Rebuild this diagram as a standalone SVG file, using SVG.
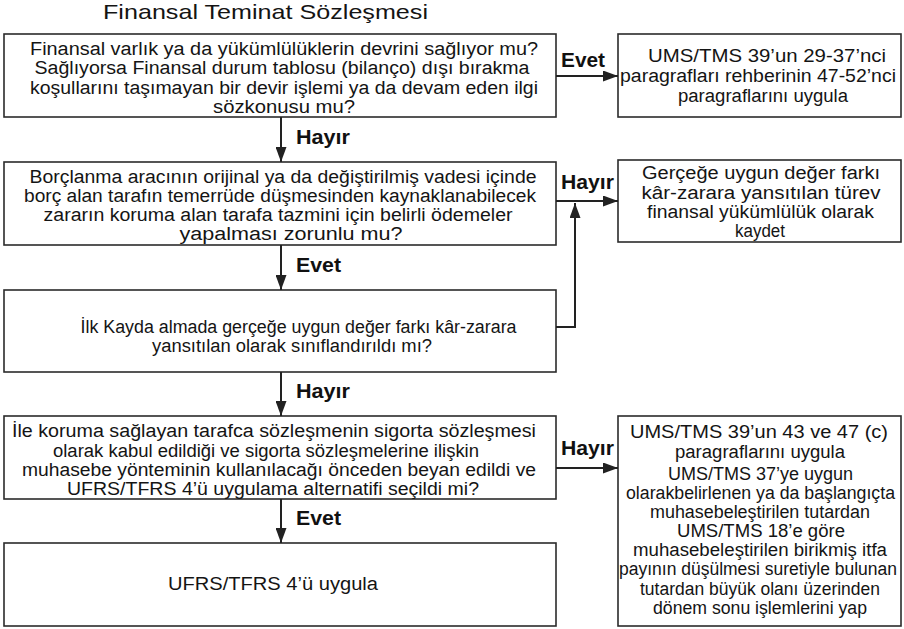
<svg xmlns="http://www.w3.org/2000/svg" width="904" height="629" viewBox="0 0 904 629">
<defs>
<style>
.box{fill:#fff;stroke:#2b2b2b;stroke-width:1.6}
.t{font-family:"Liberation Sans",Arial,sans-serif;font-size:18px;fill:#141414;text-anchor:middle}
.lbl{font-family:"Liberation Sans",Arial,sans-serif;font-size:20px;font-weight:bold;fill:#111}
.title{font-family:"Liberation Sans",Arial,sans-serif;font-size:21px;fill:#141414}
.c{fill:none;stroke:#222;stroke-width:2}
</style>
<marker id="ah" markerUnits="userSpaceOnUse" markerWidth="16" markerHeight="11" refX="15" refY="5.5" orient="auto"><path d="M0,0 L15,5.5 L0,11 Z" fill="#222"/></marker>
</defs>
<rect width="904" height="629" fill="#fff"/>
<g id="title"><text class="title" x="103" y="19" textLength="325" lengthAdjust="spacingAndGlyphs">Finansal Teminat Sözleşmesi</text></g>

<g id="n1">
<rect class="box" x="4" y="34" width="552" height="83"/>
<text class="t" x="284" y="55" textLength="508" lengthAdjust="spacingAndGlyphs">Finansal varlık ya da yükümlülüklerin devrini sağlıyor mu?</text>
<text class="t" x="282" y="74" textLength="495" lengthAdjust="spacingAndGlyphs">Sağlıyorsa Finansal durum tablosu (bilanço) dışı bırakma</text>
<text class="t" x="284" y="93.5" textLength="508" lengthAdjust="spacingAndGlyphs">koşullarını taşımayan bir devir işlemi ya da devam eden ilgi</text>
<text class="t" x="284" y="112.5" textLength="142" lengthAdjust="spacingAndGlyphs">sözkonusu mu?</text>
</g>

<g id="r1">
<rect class="box" x="618" y="34" width="283" height="83"/>
<text class="t" x="767" y="62" textLength="238" lengthAdjust="spacingAndGlyphs">UMS/TMS 39’un 29-37’nci</text>
<text class="t" x="758" y="82" textLength="276" lengthAdjust="spacingAndGlyphs">paragrafları rehberinin 47-52’nci</text>
<text class="t" x="763" y="102" textLength="170" lengthAdjust="spacingAndGlyphs">paragraflarını uygula</text>
</g>

<g id="n2">
<rect class="box" x="4" y="162" width="552" height="83"/>
<text class="t" x="283" y="183" textLength="507" lengthAdjust="spacingAndGlyphs">Borçlanma aracının orijinal ya da değiştirilmiş vadesi içinde</text>
<text class="t" x="280" y="202" textLength="512" lengthAdjust="spacingAndGlyphs">borç alan tarafın temerrüde düşmesinden kaynaklanabilecek</text>
<text class="t" x="278" y="221" textLength="469" lengthAdjust="spacingAndGlyphs">zararın koruma alan tarafa tazmini için belirli ödemeler</text>
<text class="t" x="291" y="240" textLength="223" lengthAdjust="spacingAndGlyphs">yapalması zorunlu mu?</text>
</g>

<g id="r2">
<rect class="box" x="618" y="160" width="283" height="82"/>
<text class="t" x="761" y="179" textLength="238" lengthAdjust="spacingAndGlyphs">Gerçeğe uygun değer farkı</text>
<text class="t" x="761" y="198.5" textLength="239" lengthAdjust="spacingAndGlyphs">kâr-zarara yansıtılan  türev</text>
<text class="t" x="760.5" y="218" textLength="227" lengthAdjust="spacingAndGlyphs">finansal yükümlülük olarak</text>
<text class="t" x="760" y="237" textLength="50" lengthAdjust="spacingAndGlyphs">kaydet</text>
</g>

<g id="n3">
<rect class="box" x="4" y="290" width="552" height="82"/>
<text class="t" x="298.5" y="333" textLength="436" lengthAdjust="spacingAndGlyphs">İlk Kayda almada gerçeğe uygun değer farkı kâr-zarara</text>
<text class="t" x="292" y="352" textLength="280" lengthAdjust="spacingAndGlyphs">yansıtılan olarak sınıflandırıldı mı?</text>
</g>

<g id="n4">
<rect class="box" x="4" y="416" width="552" height="83"/>
<text class="t" x="274" y="437" textLength="524" lengthAdjust="spacingAndGlyphs">İle koruma sağlayan tarafca sözleşmenin sigorta sözleşmesi</text>
<text class="t" x="266" y="456.5" textLength="426" lengthAdjust="spacingAndGlyphs">olarak kabul edildiği ve sigorta sözleşmelerine ilişkin</text>
<text class="t" x="279" y="475.5" textLength="514" lengthAdjust="spacingAndGlyphs">muhasebe yönteminin kullanılacağı önceden beyan edildi ve</text>
<text class="t" x="273" y="494.5" textLength="412" lengthAdjust="spacingAndGlyphs">UFRS/TFRS 4’ü uygulama alternatifi seçildi mi?</text>
</g>

<g id="r4">
<rect class="box" x="618" y="416" width="283" height="210"/>
<text class="t" x="759" y="437.5" textLength="258" lengthAdjust="spacingAndGlyphs">UMS/TMS 39’un 43 ve 47 (c)</text>
<text class="t" x="760" y="457.5" textLength="170" lengthAdjust="spacingAndGlyphs">paragraflarını uygula</text>
<text class="t" x="760.5" y="479.5" textLength="185" lengthAdjust="spacingAndGlyphs">UMS/TMS 37’ye uygun</text>
<text class="t" x="760.5" y="498.5" textLength="269" lengthAdjust="spacingAndGlyphs">olarakbelirlenen ya da başlangıçta</text>
<text class="t" x="760" y="517.5" textLength="220" lengthAdjust="spacingAndGlyphs">muhasebeleştirilen tutardan</text>
<text class="t" x="761" y="536.5" textLength="168" lengthAdjust="spacingAndGlyphs">UMS/TMS 18’e göre</text>
<text class="t" x="760" y="556" textLength="254" lengthAdjust="spacingAndGlyphs">muhasebeleştirilen birikmiş itfa</text>
<text class="t" x="758" y="575" textLength="278" lengthAdjust="spacingAndGlyphs">payının düşülmesi suretiyle bulunan</text>
<text class="t" x="760" y="594.5" textLength="240" lengthAdjust="spacingAndGlyphs">tutardan büyük olanı üzerinden</text>
<text class="t" x="760" y="613.5" textLength="214" lengthAdjust="spacingAndGlyphs">dönem sonu işlemlerini yap</text>
</g>

<g id="n5">
<rect class="box" x="4" y="543" width="552" height="83"/>
<text class="t" x="273" y="590" textLength="210" lengthAdjust="spacingAndGlyphs">UFRS/TFRS 4’ü uygula</text>
</g>

<g id="connectors">
<line class="c" x1="556" y1="76" x2="618" y2="76" marker-end="url(#ah)"/>
<line class="c" x1="281" y1="117" x2="281" y2="162" marker-end="url(#ah)"/>
<line class="c" x1="556" y1="201" x2="618" y2="201" marker-end="url(#ah)"/>
<polyline class="c" points="556,327 575,327 575,203" marker-end="url(#ah)"/>
<line class="c" x1="281" y1="245" x2="281" y2="290" marker-end="url(#ah)"/>
<line class="c" x1="281" y1="372" x2="281" y2="416" marker-end="url(#ah)"/>
<line class="c" x1="556" y1="468" x2="618" y2="468" marker-end="url(#ah)"/>
<line class="c" x1="281" y1="499" x2="281" y2="543" marker-end="url(#ah)"/>
<text class="lbl" x="561" y="67" textLength="44" lengthAdjust="spacingAndGlyphs">Evet</text>
<text class="lbl" x="296" y="144" textLength="54" lengthAdjust="spacingAndGlyphs">Hayır</text>
<text class="lbl" x="561" y="189" textLength="53" lengthAdjust="spacingAndGlyphs">Hayır</text>
<text class="lbl" x="296" y="272" textLength="45" lengthAdjust="spacingAndGlyphs">Evet</text>
<text class="lbl" x="296" y="398" textLength="54" lengthAdjust="spacingAndGlyphs">Hayır</text>
<text class="lbl" x="561" y="455" textLength="53" lengthAdjust="spacingAndGlyphs">Hayır</text>
<text class="lbl" x="296" y="525" textLength="45" lengthAdjust="spacingAndGlyphs">Evet</text>
</g>
</svg>
